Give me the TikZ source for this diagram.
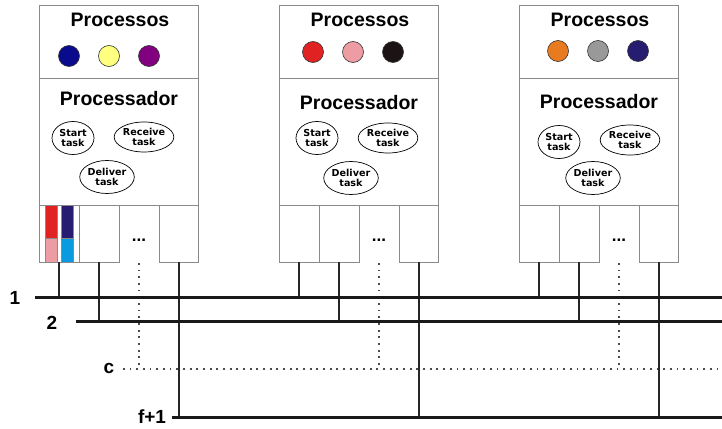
\documentclass[tikz,border=0pt]{standalone}
\usepackage{fontspec}
\setmainfont{Liberation Sans}
\newfontfamily\taskfont{DejaVu Sans}
\usetikzlibrary{shapes.geometric}

\definecolor{framegray}{HTML}{8A8A8A}
\definecolor{cNavy}{HTML}{0A0A8C}
\definecolor{cYellow}{HTML}{FFFF80}
\definecolor{cPurple}{HTML}{800080}
\definecolor{cRed}{HTML}{E02222}
\definecolor{cPink}{HTML}{EE9CA4}
\definecolor{cBlack}{HTML}{1C1414}
\definecolor{cOrange}{HTML}{E87A20}
\definecolor{cGray}{HTML}{999999}
\definecolor{cIndigo}{HTML}{261C70}
\definecolor{cBlue}{HTML}{0A9AE0}

\begin{document}
\begin{tikzpicture}[x=1pt,y=-1pt,
  frame/.style={draw=framegray, line width=0.9pt},
  title/.style={font=\bfseries\fontsize{19.5}{20}\selectfont, inner sep=0},
  task/.style={ellipse, draw=black, line width=0.7pt, inner sep=0, align=center,
    font=\taskfont\bfseries\fontsize{9.6}{10.6}\selectfont},
  proc/.style={circle, draw=black!80, line width=0.6pt, minimum size=21pt, inner sep=0},
  port/.style={rectangle, draw=framegray, line width=0.9pt, minimum height=57pt, inner sep=0},
  bar/.style={draw=framegray, line width=0.5pt},
  bus/.style={line width=3pt, draw=black!90},
  link/.style={line width=1.8pt, draw=black!85},
  dotline/.style={line width=1.9pt, dash pattern=on 1.8pt off 4.87pt, draw=black!70},
  buslabel/.style={font=\bfseries\fontsize{19}{19}\selectfont, inner sep=0}]
\useasboundingbox (0,0) rectangle (722,428);

% buses: labels and end points
\node[buslabel] (l1) at (15,298) {1};
\node[buslabel] (l2) at (52,323) {2};
\node[buslabel] (lc) at (109,368) {c};
\node[buslabel] (lf) at (152,417) {f+1};
\coordinate (b1s) at (35,297);  \coordinate (b1e) at (722,297);
\coordinate (b2s) at (76,321);  \coordinate (b2e) at (722,321);
\coordinate (bcs) at (123,369); \coordinate (bce) at (722,369);
\coordinate (bfs) at (172,417); \coordinate (bfe) at (722,417);

% one processor per column
\foreach \i/\xl/\ox/\cy/\py/\sx/\sy/\rx/\ry/\dx/\dy/\ca/\cb/\cc in {
  1/39/30/56/99/34/138/105/137/68/177/cNavy/cYellow/cPurple,
  2/279/34/52/103/38/138/109/138/72/178/cRed/cPink/cBlack,
  3/519/39/51/102/40/142/111/140/74/178/cOrange/cGray/cIndigo}{
  \node[frame, rectangle, inner sep=0, minimum width=159pt, minimum height=73pt]
    (procs\i) at (\xl+79.5,41.5) {};
  \node[frame, rectangle, inner sep=0, minimum width=159pt, minimum height=127pt]
    (cpu\i) at (\xl+79.5,141.5) {};
  \node[title] (tp\i) at (\xl+81,20) {Processos};
  \node[title] (tc\i) at (\xl+80,\py) {Processador};
  \node[proc, fill=\ca] (pa\i) at (\xl+\ox,\cy) {};
  \node[proc, fill=\cb] (pb\i) at (\xl+\ox+40,\cy) {};
  \node[proc, fill=\cc] (pc\i) at (\xl+\ox+80,\cy) {};
  \node[task, minimum width=42pt, minimum height=33pt] (st\i) at (\xl+\sx,\sy) {Start\\task};
  \node[task, minimum width=59pt, minimum height=30pt] (rt\i) at (\xl+\rx,\ry) {Receive\\task};
  \node[task, minimum width=50pt, minimum height=33pt] (dt\i) at (\xl+\dx,\dy) {Deliver\\task};
  % ports towards the channels
  \node[port, minimum width=40pt] (p\i a) at (\xl+20,233.5) {};
  \node[port, minimum width=40pt] (p\i b) at (\xl+60,233.5) {};
  \node[port, minimum width=39pt] (p\i d) at (\xl+139.5,233.5) {};
  \coordinate (p\i c) at (\xl+100,263);
  \node[anchor=base, font=\bfseries\fontsize{17}{17}\selectfont, inner sep=0]
    (dots\i) at (\xl+100,241) {...};
  % links down to the channels
  \draw[link] (p\i a.south) -- (p\i a.south |- b1s);
  \draw[link] (p\i b.south) -- (p\i b.south |- b2s);
  \draw[dotline] (p\i c) -- (p\i c |- bcs);
  \draw[link] ([xshift=0.5pt]p\i d.south) -- ([xshift=0.5pt]p\i d.south |- bfs);
}

% messages queued in the first port
\draw[bar, fill=cRed]   (45,205) rectangle (57,238);
\draw[bar, fill=cPink]  (45,238) rectangle (57,262);
\draw[bar, fill=cIndigo] (61,205) rectangle (73,238);
\draw[bar, fill=cBlue]  (61,238) rectangle (73,262);

% channels
\draw[bus] (b1s) -- (b1e);
\draw[bus] (b2s) -- (b2e);
\draw[dotline] (bcs) -- (bce);
\draw[bus] (bfs) -- (bfe);
\end{tikzpicture}
\end{document}
